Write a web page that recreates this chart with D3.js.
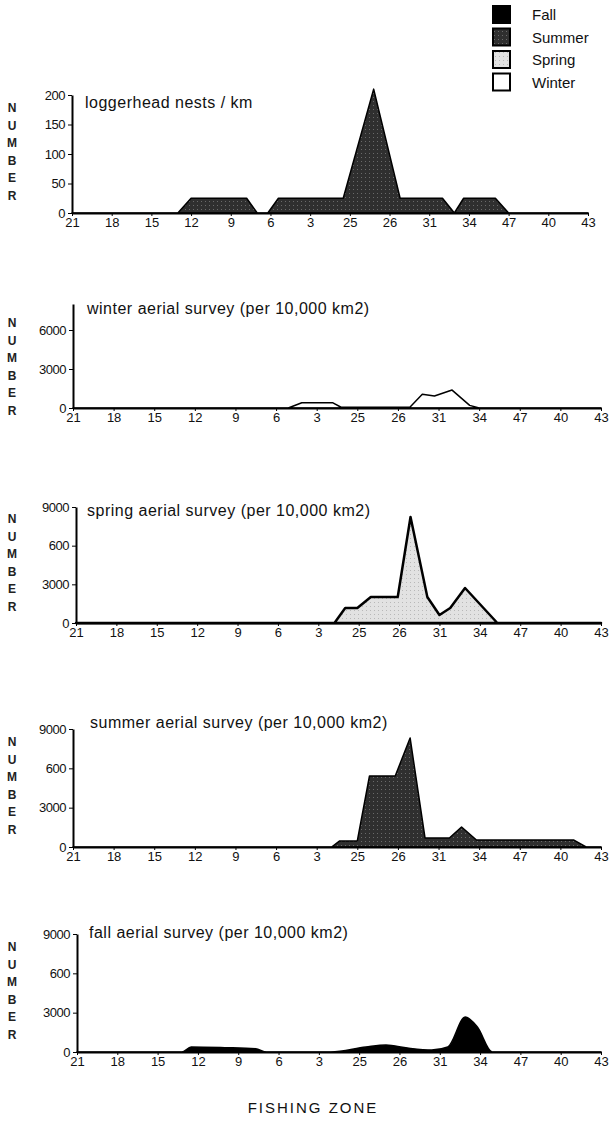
<!DOCTYPE html>
<html>
<head>
<meta charset="utf-8">
<script src="https://cdn.jsdelivr.net/npm/d3@7"></script>
<style>
  body { margin: 0; background: #fff; }
  svg { display: block; font-family: "Liberation Sans", Arial, sans-serif; }
</style>
</head>
<body>
<div id="chart"></div>
<script>
// Page size
const width = 611;
const height = 1124;

// Fishing zones along the x axis, one label every 3rd position (0..39)
const xTickLabels = ["21", "18", "15", "12", "9", "6", "3", "25", "26", "31", "34", "47", "40", "43"];

// Series: position along the zone axis and value read at that point
const nestPos = [0, 8, 9, 13.2, 14, 14.8, 15.6, 20.5, 22.8, 24.8, 28, 28.9, 29.6, 32, 33, 39];
const nestVal = [0, 0, 25, 25, 0, 0, 25, 25, 210, 25, 25, 0, 25, 25, 0, 0];

const winterPos = [0, 15.9, 16.9, 19.2, 19.8, 24.9, 25.8, 26.7, 28.0, 29.3, 30.0, 39];
const winterVal = [0, 0, 400, 400, 60, 80, 1050, 920, 1380, 200, 0, 0];

const springPos = [0, 19.2, 20.0, 20.9, 21.9, 23.9, 24.85, 26.1, 27.0, 27.8, 28.9, 31.3, 39];
const springVal = [0, 0, 1160, 1160, 2020, 2020, 8220, 2020, 620, 1160, 2715, 0, 0];

const summerPos = [0, 19.1, 19.7, 21.0, 21.9, 23.8, 24.9, 26.0, 27.8, 28.7, 29.8, 37.0, 37.9, 39];
const summerVal = [0, 0, 460, 460, 5415, 5415, 8315, 690, 690, 1525, 530, 530, 0, 0];

const fallPos = [0, 7.8, 8.5, 11, 13.3, 14.1, 18.9, 21.5, 23.0, 24.6, 26.4, 27.6, 28.9, 29.8, 30.9, 39];
const fallVal = [0, 0, 380, 330, 250, 0, 0, 380, 530, 300, 150, 380, 2670, 1900, 0, 0];

// Y tick values and their printed labels (the original prints "600" for 6000)
const nestTicks = [0, 50, 100, 150, 200];
const winterTicks = [0, 3000, 6000];
const surveyTicks = [0, 3000, 6000, 9000];
const surveyTickLabels = ["0", "3000", "600", "9000"];

// Legend
const seasons = ["Fall", "Summer", "Spring", "Winter"];
const seasonFill = {Fall: "#000", Summer: "url(#summerTex)", Spring: "url(#springTex)", Winter: "#fff"};

const svg = d3.select("#chart")
  .append("svg")
  .attr("width", width)
  .attr("height", height);

// Stippled fills like the printed figure
const defs = svg.append("defs");
const sp = defs.append("pattern").attr("id", "summerTex")
  .attr("width", 4).attr("height", 4).attr("patternUnits", "userSpaceOnUse");
sp.append("rect").attr("width", 4).attr("height", 4).attr("fill", "#2f2f2f");
sp.append("rect").attr("x", 1).attr("y", 1).attr("width", 1).attr("height", 1).attr("fill", "#6a6a6a");
const pp = defs.append("pattern").attr("id", "springTex")
  .attr("width", 4).attr("height", 4).attr("patternUnits", "userSpaceOnUse");
pp.append("rect").attr("width", 4).attr("height", 4).attr("fill", "#e2e2e2");
pp.append("rect").attr("x", 2).attr("y", 2).attr("width", 1).attr("height", 1).attr("fill", "#b8b8b8");

// Panels (layout only; values come from the arrays above)
// topTick = pixel row of the highest tick
const panels = [
  {title: "loggerhead nests / km", pos: nestPos, val: nestVal, fill: "url(#summerTex)", sw: 1.5,
   left: 72, right: 588, base: 213, yMax: 200, topTick: 95, ticks: nestTicks, tickLabels: nestTicks.map(String),
   titleX: 85, titleY: 102},
  {title: "winter aerial survey (per 10,000 km2)", pos: winterPos, val: winterVal, fill: "#fff", sw: 1.5,
   left: 73, right: 601, base: 408, yMax: 8000, topTick: 330, ticks: winterTicks, tickLabels: winterTicks.map(String),
   titleX: 87, titleY: 308},
  {title: "spring aerial survey (per 10,000 km2)", pos: springPos, val: springVal, fill: "url(#springTex)", sw: 2.5,
   left: 76, right: 601, base: 623, yMax: 9000, topTick: 507, ticks: surveyTicks, tickLabels: surveyTickLabels,
   titleX: 87, titleY: 510},
  {title: "summer aerial survey (per 10,000 km2)", pos: summerPos, val: summerVal, fill: "url(#summerTex)", sw: 1.5,
   left: 73, right: 601, base: 847, yMax: 9000, topTick: 729, ticks: surveyTicks, tickLabels: surveyTickLabels,
   titleX: 90, titleY: 722},
  {title: "fall aerial survey (per 10,000 km2)", pos: fallPos, val: fallVal, fill: "#000", sw: 1.5,
   left: 77, right: 601, base: 1052, yMax: 9000, topTick: 934, ticks: surveyTicks, tickLabels: surveyTickLabels,
   titleX: 89, titleY: 932, curve: d3.curveMonotoneX}
];

panels.forEach(p => {
  const g = svg.append("g");
  const x = d3.scaleLinear().domain([0, 39]).range([p.left, p.right]);
  const maxTick = d3.max(p.ticks);
  const yTop = p.base - (p.base - p.topTick) * p.yMax / maxTick;
  const y = d3.scaleLinear().domain([0, p.yMax]).range([p.base, yTop]);

  const pts = p.pos.map((d, i) => ({pos: d, v: p.val[i]}));

  // filled profile
  const area = d3.area()
    .x(d => x(d.pos))
    .y0(y(0))
    .y1(d => y(d.v))
    .curve(p.curve || d3.curveLinear);
  g.append("path")
    .datum(pts)
    .attr("d", area)
    .attr("fill", p.fill)
    .attr("stroke", "#000")
    .attr("stroke-width", p.sw)
    .attr("stroke-linejoin", "round");

  // y axis
  const yAxis = g.append("g")
    .attr("transform", `translate(${p.left},0)`)
    .call(d3.axisLeft(y).tickValues(p.ticks).tickSize(4).tickSizeOuter(0).tickPadding(3)
      .tickFormat((d, i) => p.tickLabels[i]));
  yAxis.select(".domain").attr("stroke-width", 2);
  yAxis.selectAll("text").attr("font-size", 13).attr("fill", "#111")
    .attr("font-family", "'Liberation Sans', Arial, sans-serif").attr("letter-spacing", "-0.5");

  // x axis
  const xAxis = g.append("g")
    .attr("transform", `translate(0,${p.base})`)
    .call(d3.axisBottom(x).tickValues(d3.range(0, 40, 3)).tickSize(3).tickSizeOuter(0).tickPadding(2)
      .tickFormat((d, i) => xTickLabels[i]));
  xAxis.select(".domain").attr("stroke-width", 2.2);
  xAxis.selectAll("text").attr("font-size", 13).attr("fill", "#111")
    .attr("font-family", "'Liberation Sans', Arial, sans-serif");

  // panel title
  g.append("text")
    .attr("x", p.titleX)
    .attr("y", p.titleY)
    .attr("dy", "0.35em")
    .attr("font-size", 16)
    .attr("letter-spacing", 0.5)
    .attr("fill", "#111")
    .text(p.title);

  // vertical NUMBER label
  const letters = "NUMBER".split("");
  g.selectAll(".ylab")
    .data(letters)
    .enter()
    .append("text")
    .attr("x", 12)
    .attr("y", (d, i) => (p.base + p.topTick) / 2 - 46 + i * 17.5)
    .attr("dy", "0.35em")
    .attr("text-anchor", "middle")
    .attr("font-size", 12)
    .attr("font-weight", "bold")
    .attr("fill", "#222")
    .text(d => d);
});

// legend
const legend = svg.append("g").attr("transform", "translate(493,6)");
seasons.forEach((s, i) => {
  legend.append("rect")
    .attr("x", 0)
    .attr("y", i * 22.5)
    .attr("width", 17)
    .attr("height", 17)
    .attr("fill", seasonFill[s])
    .attr("stroke", "#000")
    .attr("stroke-width", 2);
  legend.append("text")
    .attr("x", 39)
    .attr("y", i * 22.5 + 9)
    .attr("dy", "0.35em")
    .attr("font-size", 15)
    .attr("fill", "#111")
    .text(s);
});

// shared x title
svg.append("text")
  .attr("x", 313)
  .attr("y", 1108)
  .attr("dy", "0.35em")
  .attr("text-anchor", "middle")
  .attr("font-size", 15)
  .attr("letter-spacing", 2)
  .attr("fill", "#111")
  .text("FISHING ZONE");
</script>
</body>
</html>
